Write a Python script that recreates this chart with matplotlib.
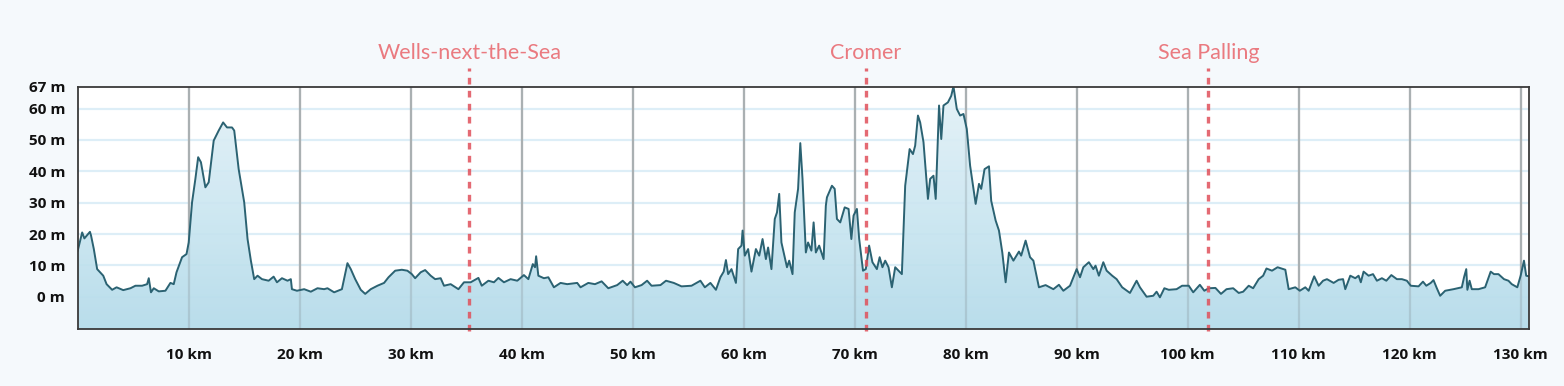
#-------------------------------------------Libraries
import numpy as np
import matplotlib
matplotlib.use('Agg')
import matplotlib.pyplot as plt
import matplotlib.transforms as mtransforms
from matplotlib.colors import LinearSegmentedColormap
#---------------------------------------elevation profile (km, m)
dist_km = [
    0.0, 0.4, 0.6, 1.1, 1.2, 1.45, 1.75, 2.3, 2.6, 3.1, 3.5, 4.1, 4.75, 5.2, 5.8,
    6.25, 6.4, 6.6, 6.85, 7.3, 7.9, 8.35, 8.65, 8.9, 9.4, 9.8, 10.0, 10.3, 10.6,
    10.85, 11.1, 11.5, 11.8, 12.25, 12.7, 13.1, 13.45, 13.9, 14.1, 14.5, 15.0,
    15.3, 15.6, 15.9, 16.2, 16.6, 17.2, 17.65, 17.95, 18.4, 18.9, 19.2, 19.3,
    19.75, 20.4, 21.0, 21.6, 22.2, 22.5,
    23.1, 23.8, 24.3, 24.6, 25.0, 25.5, 25.9, 26.4, 27.0, 27.6, 28.0, 28.6, 29.2,
    29.7, 30.1, 30.4, 30.9, 31.3, 31.8, 32.2, 32.7, 33.0, 33.6, 34.3, 34.8, 35.4,
    36.1, 36.4, 37.0, 37.5, 37.9, 38.4, 39.0, 39.6, 40.2, 40.6, 41.0, 41.2, 41.3,
    41.5, 42.0, 42.4, 42.9, 43.5, 44.1, 45.0,
    45.3, 46.0, 46.6, 47.2, 47.8, 48.6, 49.1, 49.5, 49.8, 50.2, 50.8, 51.3, 51.7,
    52.5, 53.0, 53.7, 54.4, 55.3, 56.1, 56.5, 57.0, 57.5, 57.9, 58.2, 58.4, 58.6,
    58.9, 59.3, 59.5, 59.8, 59.9, 60.1, 60.4, 60.7, 61.1, 61.4, 61.7, 62.0, 62.2,
    62.5, 62.8, 63.0, 63.2, 63.4, 63.9, 64.1, 64.4, 64.6, 64.9, 65.1, 65.3, 65.6,
    65.8, 66.1, 66.3, 66.5, 66.8, 67.2, 67.4,
    67.5, 67.95, 68.2, 68.4, 68.7, 69.1, 69.45, 69.7, 69.9, 70.2, 70.4, 70.75,
    71.0, 71.3, 71.6, 72.0, 72.25, 72.5, 72.75, 73.05, 73.35, 73.65, 74.25, 74.55,
    74.95, 75.25, 75.45, 75.7, 75.9, 76.2, 76.6, 76.8, 77.1, 77.3, 77.6, 77.8,
    78.0, 78.4, 78.7, 78.9, 79.2, 79.5, 79.8, 80.1, 80.4, 80.9, 81.2, 81.4, 81.7,
    82.1, 82.3, 82.7, 83.0, 83.3, 83.6, 83.9, 84.3, 84.8, 85.0, 85.4, 85.8, 86.1,
    86.6, 87.2, 87.9, 88.4, 88.8, 89.4, 90.0,
    90.3, 90.6, 91.1, 91.5, 91.7, 92.0, 92.4, 92.7, 93.2, 93.6, 94.1, 94.8, 95.4,
    95.7, 96.3, 96.9, 97.2, 97.5, 97.9, 98.3, 99.0, 99.5, 100.1, 100.5, 101.1,
    101.5, 101.9, 102.5, 103.0, 103.5, 104.1, 104.6, 105.0, 105.5, 105.9, 106.4,
    106.8, 107.1, 107.6, 108.1, 108.8, 109.1, 109.7, 110.1, 110.6, 110.9, 111.4,
    111.8, 112.2, 112.55,
    113.15, 113.6, 114.0, 114.2, 114.65, 115.1, 115.4, 115.6, 115.85, 116.3,
    116.7, 117.05, 117.5, 117.9, 118.35, 118.85, 119.3, 119.75, 120.1, 120.8,
    121.2, 121.5, 121.9, 122.15, 122.45, 122.75, 123.2, 123.95, 124.7, 124.9,
    125.1, 125.2, 125.4, 125.6, 126.2, 126.8, 127.3, 127.6, 128.0, 128.5, 128.9,
    129.2, 129.7, 130.0, 130.3, 130.5, 130.75]
elev_m = [
    14.7, 20.5, 18.6, 20.7, 19.5, 15.2, 8.8, 6.7, 4.0, 2.2, 3.0, 2.1, 2.7, 3.5, 3.5,
    4.0, 5.9, 1.4, 2.7, 1.7, 1.9, 4.4, 4.0, 7.8, 12.6, 13.6, 17.3, 30.1, 37.6,
    44.5, 42.9, 34.9, 36.5, 49.8, 53.0, 55.6, 54.0, 54.0, 53.0, 40.7, 30.1,
    18.4, 11.5, 5.6, 6.7, 5.6, 5.1, 6.4, 4.6, 5.9, 5.1, 5.6, 2.4,
    1.9, 2.4, 1.6, 2.7, 2.4, 2.7,
    1.4, 2.4, 10.7, 8.8, 5.6, 2.2, 0.9, 2.4, 3.5, 4.4, 6.2, 8.3, 8.6,
    8.3, 7.2, 5.9, 7.8, 8.5, 6.7, 5.6, 5.9, 3.5, 4.0, 2.4, 4.6, 4.6,
    6.0, 3.5, 5.1, 4.6, 6.0, 4.6, 5.6, 5.1, 6.9, 5.6, 10.4, 9.4, 12.9,
    6.7, 5.9, 6.2, 3.0, 4.4, 4.0, 4.4,
    3.0, 4.4, 4.0, 4.9, 2.7, 3.7, 5.1, 3.7, 4.8, 3.0, 3.7, 5.1, 3.5,
    3.7, 5.1, 4.4, 3.3, 3.5, 5.1, 3.0, 4.4, 2.2, 6.2, 8.0, 11.7, 7.2,
    8.8, 4.4, 15.2, 16.3, 21.1, 13.1, 15.2, 8.0, 15.2, 13.1, 18.4, 12.0, 15.7,
    8.8, 24.8, 26.9, 32.8, 17.3, 9.4, 11.5, 7.2, 26.9, 34.4, 49.0, 37.6, 14.1,
    17.3, 14.7, 23.7, 14.1, 16.3, 12.0, 29.0,
    31.7, 35.4, 34.4, 24.8, 23.7, 28.5, 28.0, 18.4, 25.9, 28.0, 18.6, 8.3,
    8.8, 16.3, 11.0, 8.8, 12.6, 9.4, 11.5, 9.4, 3.0, 9.4, 7.2, 35.4,
    47.1, 45.5, 48.2, 57.8, 55.6, 49.3, 31.2, 37.6, 38.6, 31.2, 61.0, 50.3,
    61.0, 62.0, 64.1, 67.1, 59.9, 57.8, 58.3, 53.5, 41.8, 29.6, 36.0, 34.4, 40.7,
    41.6, 30.6, 24.3, 21.1, 14.1, 4.6, 14.1, 11.5, 14.4, 13.1, 17.9, 12.6, 11.5,
    3.0, 3.7, 2.4, 3.8, 1.9, 3.5, 8.8,
    6.2, 9.4, 11.0, 8.8, 9.9, 6.7, 11.0, 8.3, 6.7, 5.6, 3.0, 1.2, 5.1,
    3.0, 0.0, 0.3, 1.6, -0.2, 2.7, 2.2, 2.4, 3.5, 3.5, 1.4, 3.8,
    1.9, 2.7, 2.8, 0.9, 2.4, 2.7, 1.2, 1.6, 3.5, 2.7, 5.6,
    6.7, 9.0, 8.3, 9.4, 8.6, 2.4, 3.0, 1.9, 3.0, 1.9, 6.5,
    3.5, 5.1, 5.6,
    4.4, 5.4, 5.6, 2.4, 6.7, 5.9, 6.7, 4.6, 8.0, 6.7,
    7.2, 5.1, 5.9, 5.1, 6.9, 5.6, 5.6, 5.1, 3.5, 3.3,
    4.8, 3.5, 4.4, 5.3, 2.7, 0.3, 1.9, 2.4, 3.0, 6.2,
    8.8, 2.2, 5.1, 2.4, 2.4, 3.0, 8.0, 7.2, 7.2, 5.6, 5.1,
    4.0, 3.0, 6.7, 11.5, 6.7, 6.5]
#---------------------------------------axis ticks and places
x_ticks = [10, 20, 30, 40, 50, 60, 70, 80, 90, 100, 110, 120, 130]
y_ticks = [0, 10, 20, 30, 40, 50, 60, 67]
place_names = ['Wells-next-the-Sea', 'Cromer', 'Sea Palling']
place_km = [35.28, 70.99, 101.86]
y_min, y_max = -10.3, 67
x_max = 130.75
#--------------------------------------------------------figure
fig = plt.figure(figsize=(15.64, 3.86), dpi=100)
fig.patch.set_facecolor('#f5f9fc')
ax = fig.add_axes([0.0497, 0.1477, 0.9279, 0.6277])
ax.set_facecolor('white')
ax.set_xlim(0, x_max)
ax.set_ylim(y_min, y_max)
#--------------------------------------------------------grid
for yv in y_ticks[:-1]:
    ax.axhline(yv, color='#ddeef7', lw=1.6, zorder=1)
for xv in x_ticks:
    ax.axvline(xv, color='#b4b4b4', lw=1.6, zorder=1)
#--------------------------------------------------------gradient fill
poly = ax.fill_between(dist_km, elev_m, y_min, facecolor='none', edgecolor='none', zorder=2)
cmap = LinearSegmentedColormap.from_list('elev', ['#b3dbea', '#e4f2f8'])
grad = np.linspace(0, 1, 256).reshape(-1, 1)
img = ax.imshow(grad, cmap=cmap, aspect='auto', origin='lower',
                extent=[0, x_max, y_min, y_max], zorder=2, alpha=0.92)
img.set_clip_path(poly.get_paths()[0], transform=ax.transData)
# grid shows faintly through the fill
for xv in x_ticks:
    ax.axvline(xv, color='#9aa9b0', lw=1.6, alpha=0.35, zorder=2.5)
ax.plot(dist_km, elev_m, color='#2b6272', lw=1.4, zorder=3)
#--------------------------------------------------------place markers
trans = mtransforms.blended_transform_factory(ax.transData, ax.transAxes)
for name, km in zip(place_names, place_km):
    ax.plot([km, km], [-0.01, 1.077], transform=trans, color='#e0505a', lw=2.4,
            alpha=0.85, dashes=(2, 1.9), clip_on=False, zorder=4)
    ax.text(km, 1.139, name, transform=trans, ha='center', va='center',
            fontsize=15.5, color='#ea7a80', family='Lato', fontweight='normal',
            clip_on=False)
#--------------------------------------------------------ticks and frame
ax.set_xticks(x_ticks)
ax.set_xticklabels([f'{v} km' for v in x_ticks])
ax.set_yticks(y_ticks)
ax.set_yticklabels([f'{v} m' for v in y_ticks])
ax.tick_params(length=0)
ax.tick_params(axis='x', pad=14)
ax.tick_params(axis='y', pad=9)
for lab in ax.get_xticklabels() + ax.get_yticklabels():
    lab.set_fontweight('bold')
    lab.set_fontsize(11)
    lab.set_family('Open Sans')
    lab.set_color('#111111')
for sp in ax.spines.values():
    sp.set_color('#3a3a3a')
    sp.set_linewidth(1.3)
    sp.set_zorder(5)
plt.savefig('out.png', dpi=100, facecolor=fig.get_facecolor())
#-------------------------------------------------------------end of program
